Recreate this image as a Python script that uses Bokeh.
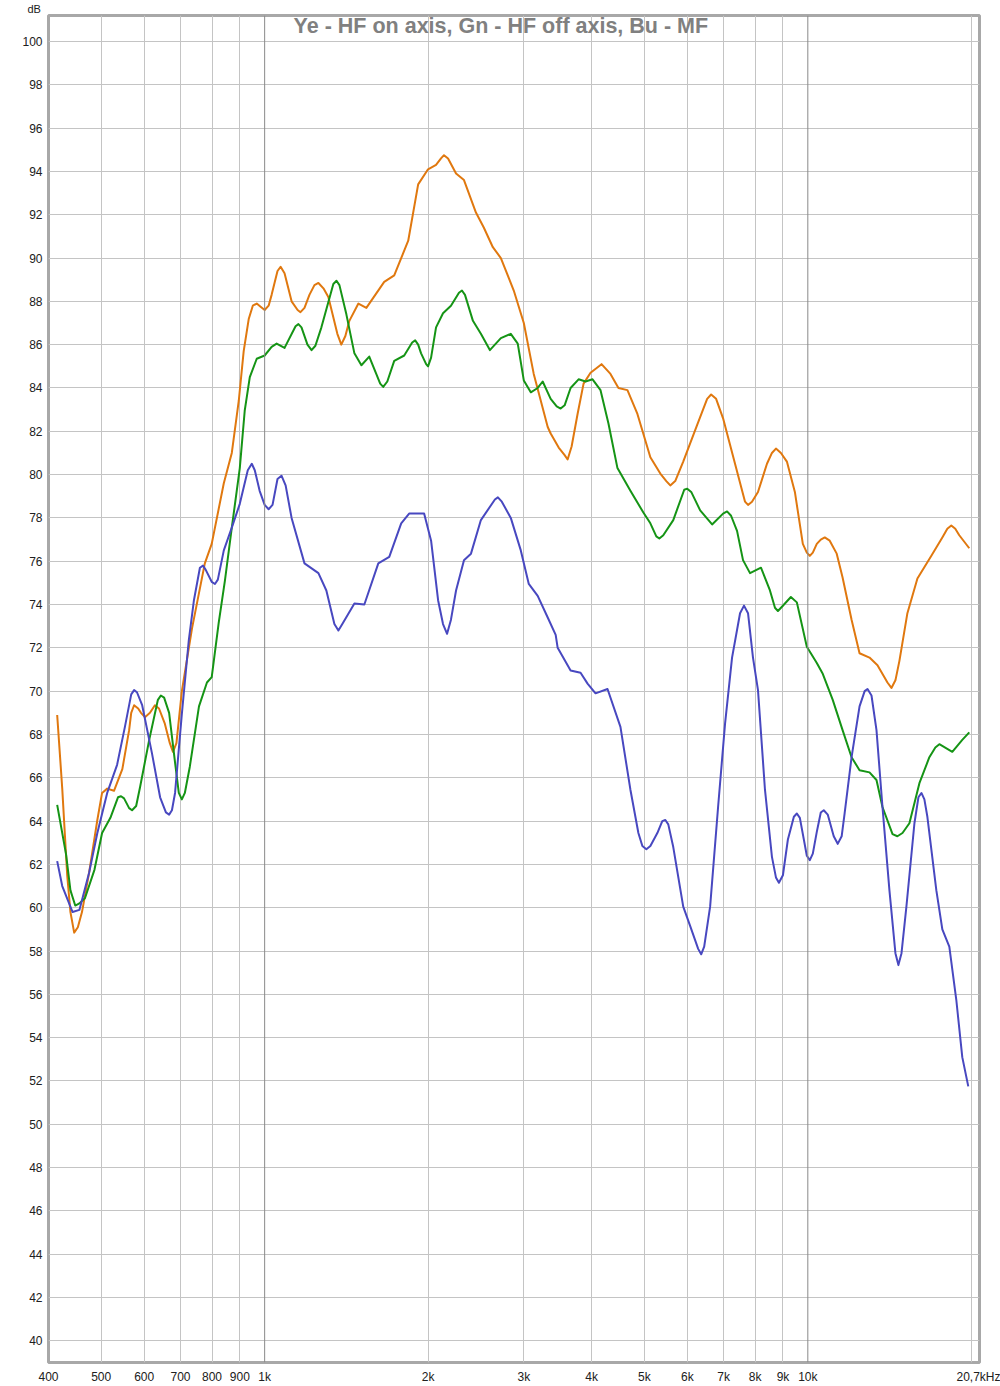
from bokeh.plotting import figure
from bokeh.models import FixedTicker, Span, Label
from bokeh.embed import file_html
from bokeh.resources import INLINE

TITLE = "Ye - HF on axis, Gn - HF off axis, Bu - MF"

# Frequency (Hz) and level (dB)
freq_ye = [415, 424, 433, 439, 446, 453, 461, 475, 492, 502, 513, 528, 547, 563, 568, 575, 585, 592,
           602, 615, 628, 639, 655, 669, 678, 688, 704, 735, 776, 799, 841, 870, 896, 915, 935, 951,
           967, 983, 1000, 1017, 1030, 1056, 1070, 1088, 1121, 1150, 1164, 1184, 1209, 1235, 1256,
           1283, 1310, 1361, 1384, 1408, 1432, 1488, 1539, 1660, 1732, 1838, 1917, 1999, 2068, 2112,
           2139, 2176, 2251, 2328, 2449, 2533, 2631, 2722, 2875, 3000, 3129, 3320, 3362, 3478, 3567,
           3612, 3674, 3768, 3865, 3981, 4171, 4332, 4481, 4655, 4856, 5130, 5351, 5489, 5582, 5700,
           5897, 6256, 6526, 6637, 6779, 6982, 7345, 7663, 7761, 7893, 8096, 8410, 8589, 8736, 8923,
           9151, 9466, 9791, 9958, 10085, 10214, 10388, 10565, 10744, 10973, 11303, 11588, 12038,
           12452, 12989, 13436, 14015, 14254, 14497, 14745, 15252, 15914, 16883, 17687, 18065, 18372,
           18685, 19004, 19827]
db_ye = [68.9, 65.5, 61.5, 59.8, 58.85, 59.1, 59.8, 61.6, 64.05, 65.3, 65.5, 65.4, 66.4, 68.2, 69.0,
         69.35, 69.2, 69.0, 68.8, 69.0, 69.35, 69.2, 68.5, 67.6, 67.2, 67.6, 70.0, 72.9, 75.9, 76.8, 79.6,
         81.0, 83.4, 85.7, 87.2, 87.8, 87.9, 87.75, 87.6, 87.8, 88.3, 89.4, 89.6, 89.3, 88.0, 87.6, 87.5,
         87.7, 88.3, 88.75, 88.85, 88.6, 88.2, 86.5, 86.0, 86.4, 87.1, 87.9, 87.7, 88.9, 89.2, 90.8, 93.4,
         94.1, 94.3, 94.6, 94.75, 94.6, 93.9, 93.6, 92.1, 91.4, 90.5, 90.0, 88.5, 87.0, 84.65, 82.2, 81.9,
         81.25, 80.9, 80.7, 81.3, 82.8, 84.2, 84.7, 85.1, 84.65, 84.0, 83.9, 82.8, 80.8, 80.05, 79.7,
         79.5, 79.7, 80.6, 82.3, 83.5, 83.7, 83.5, 82.6, 80.5, 78.75, 78.6, 78.75, 79.2, 80.5, 81.0, 81.2,
         81.0, 80.6, 79.2, 76.8, 76.4, 76.25, 76.4, 76.8, 77.0, 77.1, 76.95, 76.35, 75.25, 73.3, 71.75,
         71.55, 71.2, 70.4, 70.15, 70.5, 71.4, 73.6, 75.2, 76.25, 77.1, 77.5, 77.65, 77.5, 77.2, 76.6]

freq_gn = [415, 431, 439, 448, 456, 467, 486, 502, 520, 537, 544, 551, 563, 570, 580, 590, 613, 636,
           644, 653, 667, 684, 695, 704, 713, 728, 757, 783, 799, 823, 845, 870, 900, 919, 939, 967,
           1000, 1030, 1052, 1088, 1140, 1154, 1169, 1199, 1220, 1240, 1272, 1338, 1356, 1373, 1414,
           1463, 1507, 1558, 1605, 1632, 1653, 1682, 1732, 1807, 1869, 1893, 1917, 1941, 1983, 1999,
           2025, 2068, 2130, 2203, 2279, 2308, 2338, 2418, 2501, 2598, 2722, 2839, 2924, 3000, 3090,
           3182, 3250, 3362, 3449, 3507, 3567, 3658, 3784, 3898, 4015, 4153, 4296, 4462, 4714, 4980,
           5130, 5261, 5329, 5419, 5653, 5922, 5998, 6100, 6336, 6665, 6982, 7101, 7223, 7408, 7598,
           7827, 8199, 8517, 8700, 8810, 8961, 9307, 9546, 9958, 10388, 10654, 11114, 11588, 12038,
           12452, 12989, 13379, 13723, 14320, 14620, 14938, 15382, 16049, 16741, 17171, 17464, 18450,
           19247, 19827]
db_gn = [64.75, 62.45, 60.8, 60.1, 60.2, 60.45, 61.75, 63.45, 64.15, 65.1, 65.15, 65.05, 64.6, 64.5,
         64.7, 65.6, 67.75, 69.6, 69.8, 69.7, 69.0, 66.7, 65.3, 65.0, 65.3, 66.5, 69.3, 70.4, 70.65,
         73.15, 75.1, 77.55, 80.3, 82.95, 84.5, 85.35, 85.5, 85.9, 86.05, 85.85, 86.85, 86.95, 86.8,
         86.0, 85.75, 85.95, 86.8, 88.8, 88.95, 88.75, 87.4, 85.6, 85.05, 85.45, 84.65, 84.2, 84.05,
         84.3, 85.25, 85.5, 86.1, 86.2, 86.0, 85.6, 85.1, 85.0, 85.4, 86.8, 87.45, 87.8, 88.4, 88.5,
         88.3, 87.1, 86.5, 85.75, 86.3, 86.5, 86.05, 84.35, 83.8, 84.0, 84.3, 83.5, 83.15, 83.05, 83.2,
         84.0, 84.4, 84.3, 84.4, 83.9, 82.35, 80.3, 79.25, 78.25, 77.75, 77.15, 77.05, 77.2, 77.9, 79.3,
         79.35, 79.2, 78.35, 77.7, 78.2, 78.3, 78.1, 77.4, 76.05, 75.45, 75.7, 74.65, 73.85, 73.7, 73.9,
         74.35, 74.1, 72.05, 71.3, 70.8, 69.6, 68.2, 66.95, 66.35, 66.25, 65.9, 64.65, 63.4, 63.3, 63.45,
         63.9, 65.75, 66.95, 67.4, 67.55, 67.2, 67.75, 68.1]

freq_bu = [415, 424, 443, 456, 475, 492, 513, 535, 553, 568, 575, 582, 595, 620, 642, 658, 667, 675,
           684, 704, 725, 741, 760, 770, 779, 799, 810, 820, 841, 870, 900, 931, 947, 959, 979, 1000,
           1017, 1034, 1056, 1074, 1093, 1121, 1184, 1256, 1299, 1344, 1367, 1390, 1463, 1526, 1619,
           1696, 1784, 1845, 1966, 2025, 2086, 2130, 2167, 2203, 2251, 2328, 2398, 2501, 2654, 2688,
           2733, 2839, 2962, 3064, 3182, 3320, 3434, 3463, 3658, 3816, 3931, 4066, 4278, 4519, 4714,
           4876, 4959, 5044, 5130, 5284, 5396, 5466, 5535, 5653, 5897, 6074, 6283, 6363, 6445, 6609,
           6836, 7041, 7253, 7503, 7630, 7761, 7926, 8096, 8339, 8589, 8736, 8847, 8998, 9190, 9426,
           9546, 9668, 9958, 10085, 10214, 10388, 10565, 10699, 10881, 11161, 11351, 11543, 11687,
           12038, 12452, 12725, 12880, 13099, 13379, 13723, 14134, 14497, 14682, 14876, 15188, 15714,
           15982, 16186, 16391, 16600, 17244, 17687, 18218, 18765, 19247, 19743]
db_bu = [62.15, 61.0, 59.8, 59.9, 61.6, 63.45, 65.3, 66.6, 68.35, 69.85, 70.05, 69.95, 69.35, 67.15,
         65.1, 64.4, 64.3, 64.5, 65.3, 68.95, 72.35, 74.2, 75.7, 75.8, 75.6, 75.05, 74.95, 75.15, 76.5,
         77.55, 78.65, 80.2, 80.5, 80.2, 79.25, 78.6, 78.4, 78.6, 79.8, 79.95, 79.5, 78.0, 75.9, 75.45,
         74.65, 73.1, 72.8, 73.1, 74.05, 74.0, 75.9, 76.2, 77.75, 78.2, 78.2, 76.95, 74.2, 73.1, 72.65,
         73.3, 74.65, 76.05, 76.35, 77.9, 78.85, 78.95, 78.75, 78.0, 76.5, 74.95, 74.4, 73.4, 72.6, 72.0,
         70.95, 70.85, 70.35, 69.9, 70.1, 68.35, 65.45, 63.45, 62.85, 62.7, 62.85, 63.45, 64.0, 64.05,
         63.85, 62.8, 60.05, 59.15, 58.1, 57.85, 58.2, 60.05, 64.65, 68.5, 71.55, 73.6, 73.95, 73.6,
         71.55, 70.05, 65.45, 62.35, 61.4, 61.15, 61.5, 63.15, 64.2, 64.35, 64.15, 62.4, 62.2, 62.5,
         63.5, 64.4, 64.5, 64.3, 63.3, 62.95, 63.3, 64.35, 66.95, 69.3, 70.0, 70.1, 69.8, 68.2, 64.65,
         60.8, 57.9, 57.35, 57.9, 60.05, 63.9, 65.1, 65.3, 65.0, 64.2, 60.8, 59.0, 58.2, 55.75, 53.1,
         51.75]

x_ticks = [400, 500, 600, 700, 800, 900, 1000, 2000, 3000, 4000, 5000, 6000, 7000, 8000, 9000, 10000,
           20700]
x_tick_labels = ["400", "500", "600", "700", "800", "900", "1k", "2k", "3k", "4k", "5k", "6k", "7k",
                 "8k", "9k", "10k", "20,7kHz"]
x_grid_light = [500, 600, 700, 800, 900, 2000, 3000, 4000, 5000, 6000, 7000, 8000, 9000, 20000]
x_grid_dark = [1000, 10000]
y_ticks = list(range(40, 101, 2))
y_unit_label = "dB"

FONT = "Liberation Sans"

p = figure(width=1000, height=1386, x_axis_type="log", x_range=(400, 20705), y_range=(39, 101.2),
           output_backend="svg", toolbar_location=None, title=y_unit_label,
           min_border_left=48, min_border_right=21, min_border_top=14, min_border_bottom=22)
p.background_fill_color = "white"
p.border_fill_color = "white"
p.outline_line_color = "#a8a8a8"
p.outline_line_width = 3

# unit label above the value axis
p.title.align = "left"
p.title.offset = -21
p.title.standoff = 1
p.title.text_font = FONT
p.title.text_font_size = "11px"
p.title.text_font_style = "normal"
p.title.text_color = "#202020"

# axes
p.xaxis.ticker = FixedTicker(ticks=x_ticks)
p.xaxis.major_label_overrides = {t: l for t, l in zip(x_ticks, x_tick_labels)}
p.yaxis.ticker = FixedTicker(ticks=y_ticks)
for ax in (p.xaxis[0], p.yaxis[0]):
    ax.axis_line_color = None
    ax.major_tick_line_color = None
    ax.minor_tick_line_color = None
    ax.major_tick_in = 0
    ax.major_tick_out = 0
    ax.minor_tick_in = 0
    ax.minor_tick_out = 0
    ax.major_label_text_font = FONT
    ax.major_label_text_font_size = "12px"
    ax.major_label_text_color = "#202020"
p.xaxis.major_label_standoff = 7
p.yaxis.major_label_standoff = 6

# grids
p.xgrid.ticker = FixedTicker(ticks=x_grid_light)
p.xgrid.grid_line_color = "#c4c4c4"
p.xgrid.grid_line_width = 1
p.ygrid.ticker = FixedTicker(ticks=y_ticks)
p.ygrid.grid_line_color = "#c4c4c4"
p.ygrid.grid_line_width = 1
for f in x_grid_dark:
    p.add_layout(Span(location=f, dimension="height", line_color="#8a8a8a", line_width=1))

# curves
p.line(freq_ye, db_ye, line_color="#e0780f", line_width=2, line_join="round")
p.line(freq_gn, db_gn, line_color="#159415", line_width=2, line_join="round")
p.line(freq_bu, db_bu, line_color="#4848c0", line_width=2, line_join="round")

# chart title inside the frame
p.add_layout(Label(x=2722, y=100.72, text=TITLE, text_align="center", text_baseline="middle",
                   text_font=FONT, text_font_style="bold", text_font_size="21.5px",
                   text_color="#808080"))

open("out.html", "w").write(file_html(p, INLINE))
